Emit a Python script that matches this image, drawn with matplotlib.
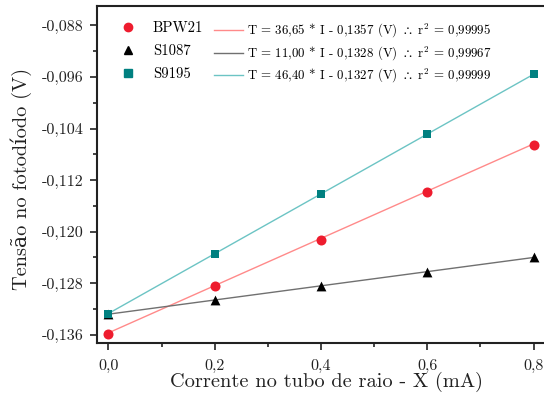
import matplotlib
matplotlib.use("Agg")
import matplotlib.pyplot as plt
from matplotlib.lines import Line2D
from matplotlib.ticker import FuncFormatter, MultipleLocator

plt.rcParams['font.family'] = ['cmr10', 'DejaVu Serif']
plt.rcParams['mathtext.fontset'] = 'cm'
plt.rcParams['axes.unicode_minus'] = False

corrente = [0.0, 0.2, 0.4, 0.6, 0.8]
tensao_bpw21 = [-0.1358, -0.1285, -0.1213, -0.1139, -0.1065]
tensao_s1087 = [-0.1328, -0.1306, -0.1284, -0.1262, -0.1240]
tensao_s9195 = [-0.1327, -0.1234, -0.1141, -0.1048, -0.0956]

nomes = ["BPW21", "S1087", "S9195"]
inclinacoes = [36.65, 11.00, 46.40]
intercepts = [-0.1357, -0.1328, -0.1327]
r2 = ["0,99995", "0,99967", "0,99999"]

cores_pontos = ["#ee1c2e", "black", "#008080"]
cores_retas = ["#ff8a8a", "#707070", "#6cc4c4"]
marcadores = ["o", "^", "s"]
tamanhos = [52, 50, 38]

W, H = 544, 403
fig = plt.figure(figsize=(W / 100, H / 100), dpi=100)
ax = fig.add_axes([0.179, 0.150, 0.841, 0.835])

series = [tensao_bpw21, tensao_s1087, tensao_s9195]
handles_pontos = []
handles_retas = []
labels_retas = []
for dados, a, b, rr, cr in zip(series, inclinacoes, intercepts, r2, cores_retas):
    ajuste = [b + a * i / 1000 for i in corrente]
    ax.plot(corrente, ajuste, color=cr, lw=1.0, zorder=2)
    handles_retas.append(Line2D([], [], color=cr, lw=1.0))
    labels_retas.append("T = %s * I - %s (V) $\\therefore$ r$^2$ = %s"
                        % (("%.2f" % a).replace(".", ","), ("%.4f" % -b).replace(".", ","), rr))

for dados, cp, m, t in zip(series, cores_pontos, marcadores, tamanhos):
    ax.scatter(corrente, dados, marker=m, s=t, color=cp, zorder=3, linewidths=0)
    handles_pontos.append(Line2D([], [], marker=m, ls="", color=cp, markersize=6))

ax.set_xlim(-0.0207, 0.84)
ax.set_ylim(-0.1372, -0.0850)
ax.xaxis.set_major_locator(MultipleLocator(0.2))
ax.xaxis.set_minor_locator(MultipleLocator(0.1))
ax.yaxis.set_major_locator(MultipleLocator(0.008))
ax.yaxis.set_minor_locator(MultipleLocator(0.004))
ax.xaxis.set_major_formatter(FuncFormatter(lambda v, p: ("%.1f" % v).replace(".", ",")))
ax.yaxis.set_major_formatter(FuncFormatter(lambda v, p: ("%.3f" % v).replace(".", ",").replace("−", "-")))
ax.tick_params(which="both", direction="out", labelsize=11.6, width=1.2, colors="#222222")
ax.tick_params(which="major", length=5, pad=5)
ax.tick_params(axis="x", which="major", pad=7)
ax.tick_params(which="minor", length=3)
ax.spines["right"].set_visible(False)
for s in ["left", "bottom", "top"]:
    ax.spines[s].set_linewidth(1.5)
    ax.spines[s].set_color("#222222")

ax.set_xlabel("Corrente no tubo de raio - X (mA)", fontsize=14.7, color="#222222", labelpad=-1)
ax.set_ylabel("Tensão no fotodíodo (V)", fontsize=14.6, color="#222222")
ax.yaxis.set_label_coords(-0.142, 0.485)

leg1 = ax.legend(handles_pontos, nomes, loc="upper left",
                 bbox_to_anchor=(120.6 / W, 1 - 21 / H), bbox_transform=fig.transFigure,
                 frameon=False, fontsize=10.6, handlelength=1.0, handletextpad=1.2,
                 labelspacing=0.65, borderpad=0, borderaxespad=0)
ax.add_artist(leg1)
leg2 = ax.legend(handles_retas, labels_retas, loc="upper left",
                 bbox_to_anchor=(214 / W, 1 - 22 / H), bbox_transform=fig.transFigure,
                 frameon=False, fontsize=9.3, handlelength=2.25, handletextpad=0.3,
                 labelspacing=0.35, borderpad=0, borderaxespad=0)

fig.savefig("out.png", dpi=100)
